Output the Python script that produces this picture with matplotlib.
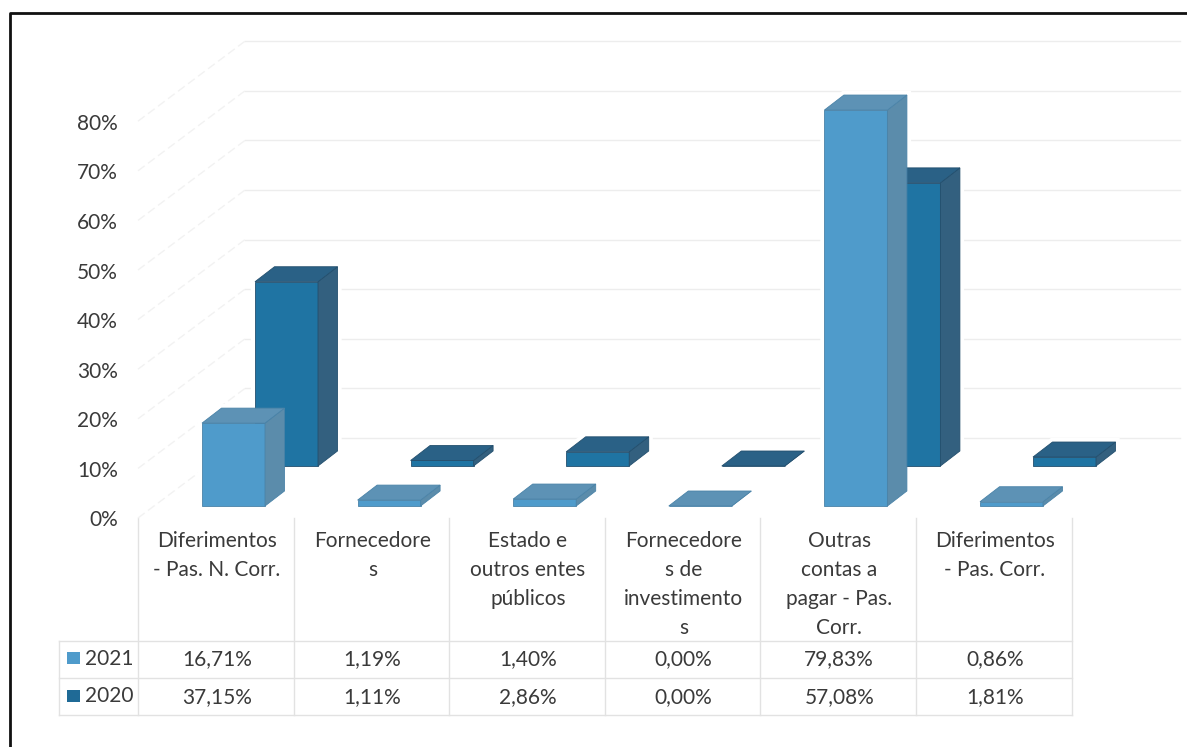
import matplotlib
matplotlib.use('Agg')
import matplotlib.pyplot as plt
from matplotlib.patches import Polygon, Rectangle

W, H = 1187, 747

categories = ['Diferimentos\n- Pas. N. Corr.', 'Fornecedore\ns',
              'Estado e\noutros entes\npúblicos',
              'Fornecedore\ns de\ninvestimento\ns',
              'Outras\ncontas a\npagar - Pas.\nCorr.',
              'Diferimentos\n- Pas. Corr.']
values_2021 = [16.71, 1.19, 1.40, 0.00, 79.83, 0.86]
values_2020 = [37.15, 1.11, 2.86, 0.00, 57.08, 1.81]
labels_2021 = ['16,71%', '1,19%', '1,40%', '0,00%', '79,83%', '0,86%']
labels_2020 = ['37,15%', '1,11%', '2,86%', '0,00%', '57,08%', '1,81%']
y_ticks = [0, 10, 20, 30, 40, 50, 60, 70, 80]

plt.rcParams['font.family'] = ['Lato', 'DejaVu Sans']
text_col = '#3a3a3a'
line_col = '#e2e2e2'
grid_col = '#ededed'
fs = 15

fig = plt.figure(figsize=(W / 100, H / 100), dpi=100, facecolor='white')

# page axes works in pixels (frame, table, labels)
page = fig.add_axes([0, 0, 1, 1])
page.set_xlim(0, W)
page.set_ylim(H, 0)
page.axis('off')

# chart axes: x in categories, y in percent, 0% at the front corner of the floor
cat_w = 155.6
pct_h = 4.96
x0_px, y0_px = 138, 518
ax = fig.add_axes([0, 0, 1, 1])
ax.set_xlim(-x0_px / cat_w, (W - x0_px) / cat_w)
ax.set_ylim((y0_px - H) / pct_h, y0_px / pct_h)
ax.axis('off')
ax.patch.set_alpha(0)


def dx(px):
    return px / cat_w


def dy(px):
    return px / pct_h


# back wall and left wall gridlines
wall_x, wall_y = dx(107), dy(80)
for t in y_ticks:
    ax.plot([wall_x, dx(1180 - x0_px)], [t + wall_y, t + wall_y], color=grid_col, lw=1, zorder=1)
    ax.plot([0, wall_x], [t, t + wall_y], color='#f2f2f2', lw=1, ls=(0, (6, 3)), zorder=1)


def bar3d(pos, val, x_off, y_off, front, side, top, edge, z):
    bw = dx(63)
    depth_x, depth_y = dx(19.5), dy(15)
    left = pos + x_off
    base = y_off
    # white halo below every bar so the gridlines stop short of it
    ax.add_patch(Polygon([(left, base), (left + bw, base), (left + bw + depth_x, base + depth_y),
                          (left + bw + depth_x, base + val + depth_y), (left + depth_x, base + val + depth_y),
                          (left, base + val)], fc='white', ec='white', lw=6, zorder=1.5))
    ax.bar(left, val, bw, bottom=base, align='edge', color=front, edgecolor=edge, linewidth=0.6, zorder=z + 0.1)
    ax.add_patch(Polygon([(left + bw, base), (left + bw + depth_x, base + depth_y),
                          (left + bw + depth_x, base + val + depth_y), (left + bw, base + val)],
                         fc=side, ec=edge, lw=0.6, zorder=z + 0.1))
    ax.add_patch(Polygon([(left, base + val), (left + bw, base + val),
                          (left + bw + depth_x, base + val + depth_y), (left + depth_x, base + val + depth_y)],
                         fc=top, ec=edge, lw=0.6, zorder=z + 0.2))


for i, v in enumerate(values_2020):
    bar3d(i, v, dx(117), dy(52), '#1f74a3', '#33607f', '#2a6186', '#234f6e', 2 + i * 0.01)
for i, v in enumerate(values_2021):
    bar3d(i, v, dx(64), dy(12), '#4f9bcb', '#5b8cab', '#5d92b5', '#4a83a8', 3 + i * 0.01)

for t in y_ticks:
    ax.text(dx(-20), t - dy(2.5), '%d%%' % t, ha='right', va='center', fontsize=fs, color=text_col)

# data table
col_x = [x0_px + cat_w * i for i in range(len(categories) + 1)]
rows_y = [641, 678, 715]
top_y = 518
legend_x = 59
for x in col_x:
    page.plot([x, x], [top_y, rows_y[-1]], color=line_col, lw=1)
for y in rows_y:
    page.plot([legend_x, col_x[-1]], [y, y], color=line_col, lw=1)
page.plot([legend_x, legend_x], [rows_y[0], rows_y[-1]], color=line_col, lw=1)

for i, c in enumerate(categories):
    xc = col_x[i] + cat_w / 2 + 1
    for j, part in enumerate(c.split('\n')):
        page.text(xc, 541 + 29 * j, part, ha='center', va='center', fontsize=fs, color=text_col)
    page.text(xc, 659, labels_2021[i], ha='center', va='center', fontsize=fs, color=text_col)
    page.text(xc, 697, labels_2020[i], ha='center', va='center', fontsize=fs, color=text_col)

page.add_patch(Rectangle((67, 652), 13, 12, fc='#4f9bcb', ec='none'))
page.add_patch(Rectangle((67, 690), 13, 12, fc='#1f6a96', ec='none'))
page.text(85, 659, '2021', ha='left', va='center', fontsize=fs, color=text_col)
page.text(85, 696, '2020', ha='left', va='center', fontsize=fs, color=text_col)

# scanned frame, runs off the right and bottom of the page
page.plot([10, 10, W], [H, 13, 13], color='#111111', lw=2)

fig.savefig('out.png', dpi=100)
